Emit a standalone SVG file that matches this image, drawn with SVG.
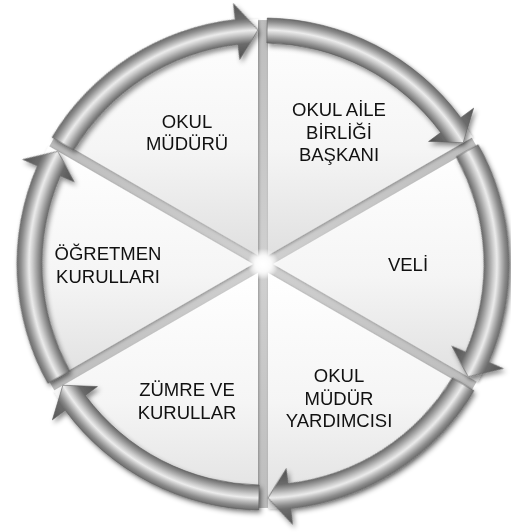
<svg xmlns="http://www.w3.org/2000/svg" width="511" height="532" viewBox="0 0 511 532">
  <defs>
    <style>
      .lbl { font-family: "Liberation Sans", "Open Sans", sans-serif; font-size: 18.5px; fill: #111111; text-anchor: middle; }
      .slice { fill: url(#sliceGrad); }
      .arrow { fill: url(#tubeGrad); stroke: #5e5e5e; stroke-width: 0.6; stroke-linejoin: miter; }
    </style>
    <linearGradient id="sliceGrad" x1="0" y1="0" x2="0" y2="1">
      <stop offset="0" stop-color="#ffffff"/>
      <stop offset="0.55" stop-color="#f5f5f5"/>
      <stop offset="1" stop-color="#e0e0e0"/>
    </linearGradient>
    <radialGradient id="gapGrad" cx="263" cy="264" r="244" gradientUnits="userSpaceOnUse">
      <stop offset="0" stop-color="#ffffff"/>
      <stop offset="0.06" stop-color="#cfcfcf"/>
      <stop offset="1" stop-color="#bdbdbd"/>
    </radialGradient>
    <radialGradient id="glowGrad" cx="263" cy="264" r="16" gradientUnits="userSpaceOnUse">
      <stop offset="0" stop-color="#ffffff" stop-opacity="1"/>
      <stop offset="0.5" stop-color="#ffffff" stop-opacity="0.8"/>
      <stop offset="1" stop-color="#ffffff" stop-opacity="0"/>
    </radialGradient>
    <radialGradient id="tubeGrad" cx="0" cy="0" r="262" gradientUnits="userSpaceOnUse">
      <stop offset="0" stop-color="#777777"/>
      <stop offset="0.786" stop-color="#4e4e4e"/>
      <stop offset="0.8435" stop-color="#6a6a6a"/>
      <stop offset="0.857" stop-color="#8e8e8e"/>
      <stop offset="0.878" stop-color="#c8c8c8"/>
      <stop offset="0.893" stop-color="#ececec"/>
      <stop offset="0.906" stop-color="#c2c2c2"/>
      <stop offset="0.925" stop-color="#8a8a8a"/>
      <stop offset="0.939" stop-color="#6c6c6c"/>
      <stop offset="1" stop-color="#555555"/>
    </radialGradient>
    <filter id="sliceShadow" x="-10%" y="-10%" width="120%" height="120%">
      <feDropShadow dx="1" dy="1" stdDeviation="1.5" flood-color="#000000" flood-opacity="0.3"/>
    </filter>
    <filter id="arrowShadow" x="-10%" y="-10%" width="120%" height="120%">
      <feDropShadow dx="2" dy="3" stdDeviation="2.5" flood-color="#000000" flood-opacity="0.45"/>
    </filter>
  </defs>

  <rect x="0" y="0" width="511" height="532" fill="#ffffff"/>

  <!-- gap background -->
  <circle cx="263" cy="264" r="244" fill="url(#gapGrad)"/>

  <g filter="url(#sliceShadow)">
    <g id="node-okul-aile">
      <path class="slice" d="M 268 255.34 L 268 19.34 A 236 236 0 0 1 472.38 137.34 Z"/>
    </g>
    <g id="node-veli">
      <path class="slice" d="M 273 264 L 477.38 146 A 236 236 0 0 1 477.38 382 Z"/>
    </g>
    <g id="node-mudur-yardimcisi">
      <path class="slice" d="M 268 272.66 L 472.38 390.66 A 236 236 0 0 1 268 508.66 Z"/>
    </g>
    <g id="node-zumre">
      <path class="slice" d="M 258 272.66 L 258 508.66 A 236 236 0 0 1 53.62 390.66 Z"/>
    </g>
    <g id="node-ogretmen">
      <path class="slice" d="M 253 264 L 48.62 382 A 236 236 0 0 1 48.62 146 Z"/>
    </g>
    <g id="node-okul-muduru">
      <path class="slice" d="M 258 255.34 L 53.62 137.34 A 236 236 0 0 1 258 19.34 Z"/>
    </g>
  </g>

  <!-- center glow -->
  <circle cx="263" cy="264" r="16" fill="url(#glowGrad)"/>

  <g id="connectors" filter="url(#arrowShadow)">
    <g transform="translate(263 264)">
      <path class="arrow" d="M 4.29 -245.96 A 246 246 0 0 1 197.75 -146.33 L 210.61 -155.84 L 200.16 -121.22 L 165.59 -122.53 L 177.65 -131.46 A 221 221 0 0 0 3.86 -220.97 Z"/>
      <path class="arrow" transform="rotate(60)" d="M 4.29 -245.96 A 246 246 0 0 1 197.75 -146.33 L 210.61 -155.84 L 200.16 -121.22 L 165.59 -122.53 L 177.65 -131.46 A 221 221 0 0 0 3.86 -220.97 Z"/>
      <path class="arrow" transform="rotate(120)" d="M 4.29 -245.96 A 246 246 0 0 1 197.75 -146.33 L 210.61 -155.84 L 200.16 -121.22 L 165.59 -122.53 L 177.65 -131.46 A 221 221 0 0 0 3.86 -220.97 Z"/>
      <path class="arrow" transform="rotate(180)" d="M 4.29 -245.96 A 246 246 0 0 1 197.75 -146.33 L 210.61 -155.84 L 200.16 -121.22 L 165.59 -122.53 L 177.65 -131.46 A 221 221 0 0 0 3.86 -220.97 Z"/>
      <path class="arrow" transform="rotate(240)" d="M 4.29 -245.96 A 246 246 0 0 1 197.75 -146.33 L 210.61 -155.84 L 200.16 -121.22 L 165.59 -122.53 L 177.65 -131.46 A 221 221 0 0 0 3.86 -220.97 Z"/>
      <path class="arrow" transform="rotate(300)" d="M 4.29 -245.96 A 246 246 0 0 1 197.75 -146.33 L 210.61 -155.84 L 200.16 -121.22 L 165.59 -122.53 L 177.65 -131.46 A 221 221 0 0 0 3.86 -220.97 Z"/>
    </g>
  </g>

  <!-- labels -->
  <g id="label-okul-muduru">
    <text class="lbl" x="187" y="127.5">OKUL</text>
    <text class="lbl" x="187" y="150">MÜDÜRÜ</text>
  </g>
  <g id="label-okul-aile">
    <text class="lbl" x="339" y="116">OKUL AİLE</text>
    <text class="lbl" x="339" y="138.5">BİRLİĞİ</text>
    <text class="lbl" x="339" y="161">BAŞKANI</text>
  </g>
  <g id="label-veli">
    <text class="lbl" x="408" y="271">VELİ</text>
  </g>
  <g id="label-mudur-yardimcisi">
    <text class="lbl" x="339" y="382">OKUL</text>
    <text class="lbl" x="339" y="404.5">MÜDÜR</text>
    <text class="lbl" x="339" y="427">YARDIMCISI</text>
  </g>
  <g id="label-zumre">
    <text class="lbl" x="187" y="396">ZÜMRE VE</text>
    <text class="lbl" x="187" y="418.5">KURULLAR</text>
  </g>
  <g id="label-ogretmen">
    <text class="lbl" x="108" y="260">ÖĞRETMEN</text>
    <text class="lbl" x="108" y="282.5">KURULLARI</text>
  </g>
</svg>
